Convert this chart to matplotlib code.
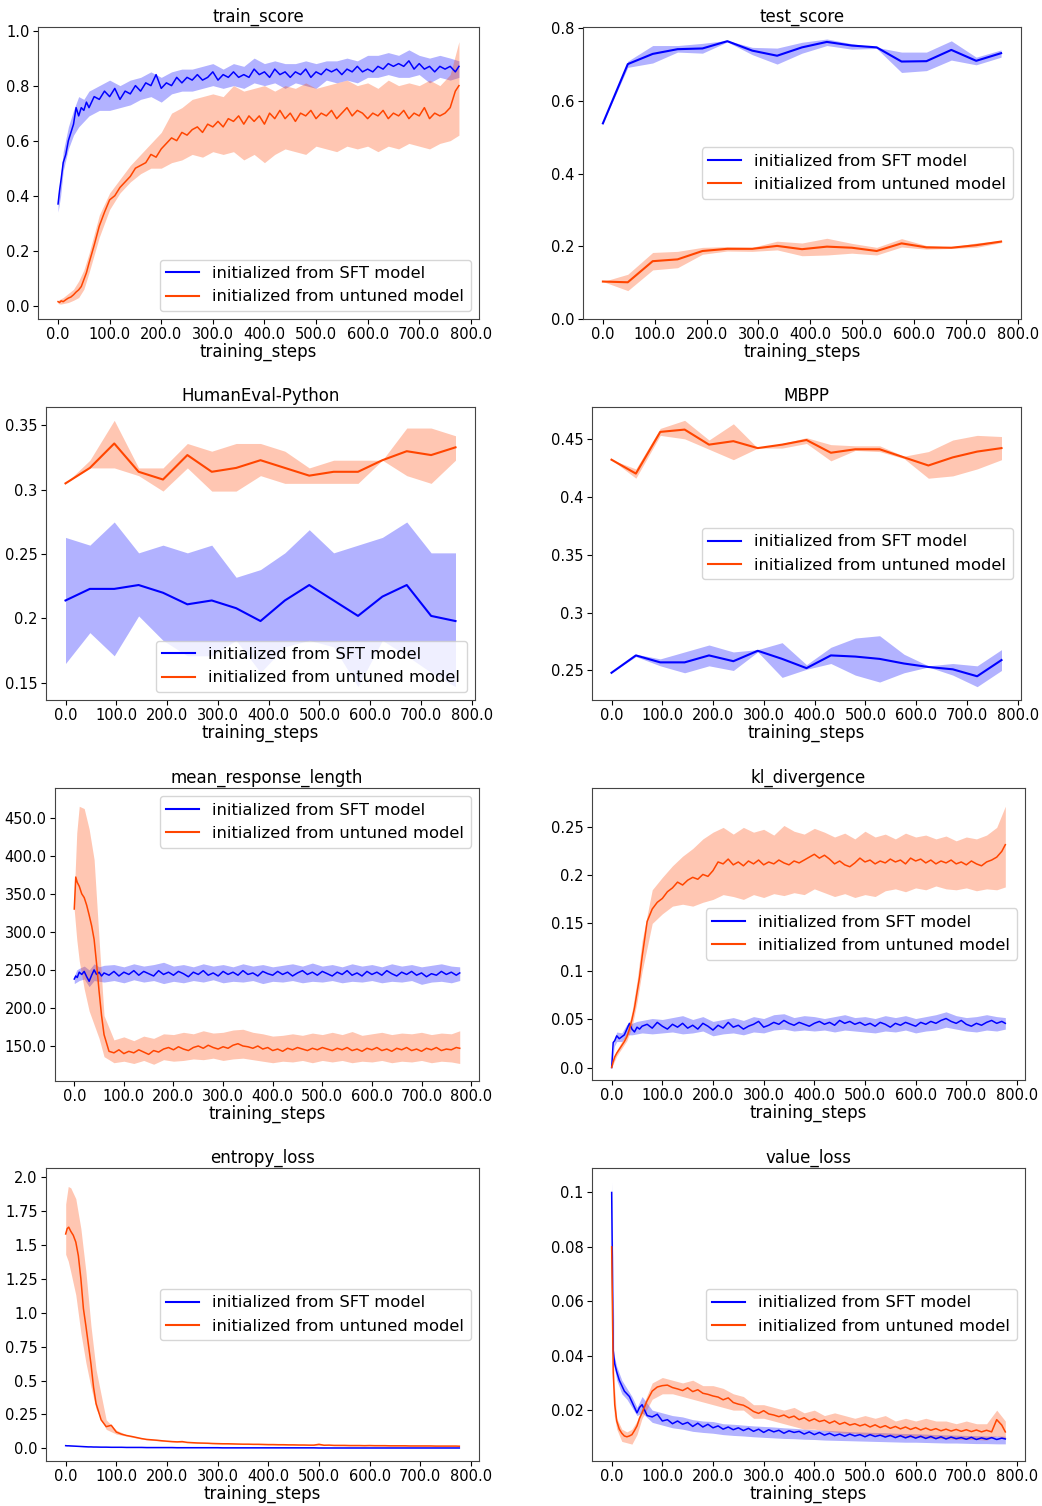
import matplotlib
matplotlib.use("Agg")
import matplotlib.pyplot as plt
from matplotlib.ticker import MultipleLocator, FuncFormatter

W, H = 1042, 1506

SFT_COLOR = "#0000ff"
UNT_COLOR = "#ff4500"
LABELS = ["initialized from SFT model", "initialized from untuned model"]

# ── x grids ───────────────────────────────────────────────────────
EVAL_STEPS = list(range(0, 769, 48))
STEPS_M = [0, 3, 6, 10, 15, 20, 25, 30, 35, 40, 45, 50, 55, 60] + list(range(70, 771, 10)) + [777]
STEPS_B = [0, 5, 10, 20, 30, 40, 50, 60] + list(range(80, 761, 20)) + [777]

# ── train_score ───────────────────────────────────────────────────
train_sft = [0.37, 0.42, 0.46, 0.52, 0.55, 0.60, 0.63, 0.66, 0.72, 0.69, 0.72, 0.71, 0.74, 0.72,
             0.76, 0.75, 0.78, 0.76, 0.79, 0.75, 0.78, 0.77, 0.80, 0.78,
             0.81, 0.80, 0.84, 0.79, 0.81, 0.80, 0.83, 0.81, 0.83, 0.82,
             0.84, 0.82, 0.83, 0.85, 0.82, 0.84, 0.83, 0.85, 0.83, 0.84,
             0.83, 0.86, 0.84, 0.85, 0.83, 0.86, 0.84, 0.85, 0.83, 0.85,
             0.84, 0.86, 0.83, 0.85, 0.84, 0.86, 0.85, 0.86, 0.84, 0.86,
             0.85, 0.87, 0.85, 0.86, 0.85, 0.87, 0.86, 0.88, 0.87, 0.88,
             0.87, 0.89, 0.86, 0.88, 0.86, 0.87, 0.85, 0.87, 0.86, 0.87,
             0.85, 0.87]
train_unt = [0.015, 0.012, 0.018, 0.015, 0.022, 0.028, 0.032, 0.04, 0.05, 0.058, 0.07, 0.095, 0.12, 0.155,
             0.22, 0.29, 0.34, 0.385, 0.40, 0.43, 0.45, 0.47, 0.50, 0.51,
             0.52, 0.55, 0.54, 0.57, 0.59, 0.61, 0.60, 0.63, 0.62, 0.64,
             0.65, 0.63, 0.66, 0.65, 0.67, 0.65, 0.68, 0.67, 0.69, 0.66,
             0.69, 0.67, 0.69, 0.66, 0.70, 0.68, 0.71, 0.68, 0.70, 0.67,
             0.70, 0.69, 0.71, 0.68, 0.70, 0.69, 0.71, 0.68, 0.70, 0.72,
             0.69, 0.71, 0.70, 0.68, 0.70, 0.69, 0.71, 0.68, 0.70, 0.69,
             0.71, 0.68, 0.70, 0.69, 0.72, 0.68, 0.70, 0.69, 0.70, 0.72,
             0.78, 0.80]
train_sft_hi = [0.40, 0.47, 0.56, 0.65, 0.71, 0.76, 0.75, 0.78,
                0.80, 0.82, 0.80, 0.82, 0.83, 0.85, 0.83, 0.85, 0.86, 0.86,
                0.87, 0.88, 0.86, 0.88, 0.87, 0.90, 0.88, 0.89, 0.88, 0.88,
                0.89, 0.88, 0.89, 0.89, 0.90, 0.89, 0.91, 0.91, 0.92, 0.91,
                0.93, 0.91, 0.90, 0.91, 0.90, 0.89]
train_sft_lo = [0.34, 0.40, 0.49, 0.57, 0.62, 0.65, 0.67, 0.69,
                0.71, 0.71, 0.72, 0.73, 0.75, 0.76, 0.74, 0.77, 0.78, 0.78,
                0.79, 0.80, 0.79, 0.80, 0.79, 0.81, 0.80, 0.81, 0.79, 0.81,
                0.80, 0.79, 0.82, 0.81, 0.82, 0.81, 0.83, 0.83, 0.84, 0.83,
                0.83, 0.84, 0.81, 0.83, 0.82, 0.83]
train_unt_hi = [0.02, 0.025, 0.03, 0.045, 0.06, 0.09, 0.13, 0.19,
                0.33, 0.41, 0.46, 0.51, 0.55, 0.59, 0.63, 0.70, 0.72, 0.75,
                0.76, 0.77, 0.76, 0.80, 0.78, 0.79, 0.80, 0.78, 0.80, 0.79,
                0.81, 0.79, 0.80, 0.81, 0.82, 0.80, 0.81, 0.79, 0.82, 0.80,
                0.81, 0.80, 0.82, 0.80, 0.84, 0.96]
train_unt_lo = [0.008, 0.006, 0.008, 0.012, 0.02, 0.03, 0.06, 0.12,
                0.25, 0.35, 0.41, 0.45, 0.48, 0.50, 0.50, 0.52, 0.53, 0.55,
                0.54, 0.56, 0.55, 0.56, 0.53, 0.55, 0.52, 0.55, 0.57, 0.56,
                0.55, 0.58, 0.57, 0.56, 0.58, 0.57, 0.58, 0.56, 0.58, 0.57,
                0.59, 0.58, 0.57, 0.59, 0.60, 0.62]

# ── test_score ────────────────────────────────────────────────────
test_sft = [0.538, 0.701, 0.729, 0.742, 0.744, 0.764, 0.738, 0.724, 0.747, 0.762, 0.752, 0.747, 0.708, 0.709, 0.740, 0.710, 0.731]
test_sft_hi = [0.538, 0.709, 0.752, 0.752, 0.758, 0.766, 0.747, 0.745, 0.761, 0.770, 0.757, 0.747, 0.734, 0.734, 0.765, 0.720, 0.740]
test_sft_lo = [0.538, 0.692, 0.704, 0.734, 0.731, 0.762, 0.727, 0.701, 0.731, 0.752, 0.742, 0.744, 0.678, 0.683, 0.712, 0.699, 0.720]
test_unt = [0.103, 0.101, 0.159, 0.164, 0.187, 0.193, 0.193, 0.201, 0.192, 0.199, 0.196, 0.187, 0.208, 0.197, 0.196, 0.203, 0.213]
test_unt_hi = [0.103, 0.123, 0.183, 0.186, 0.197, 0.199, 0.197, 0.214, 0.209, 0.222, 0.208, 0.197, 0.221, 0.202, 0.198, 0.209, 0.216]
test_unt_lo = [0.103, 0.078, 0.135, 0.141, 0.178, 0.187, 0.186, 0.190, 0.174, 0.176, 0.181, 0.176, 0.198, 0.192, 0.194, 0.197, 0.210]

# ── HumanEval-Python ──────────────────────────────────────────────
he_sft = [0.214, 0.223, 0.223, 0.226, 0.220, 0.211, 0.214, 0.208, 0.198, 0.214, 0.226, 0.214, 0.202, 0.217, 0.226, 0.202, 0.198]
he_sft_hi = [0.263, 0.257, 0.275, 0.251, 0.257, 0.251, 0.257, 0.232, 0.238, 0.251, 0.269, 0.251, 0.257, 0.263, 0.275, 0.251, 0.251]
he_sft_lo = [0.165, 0.189, 0.171, 0.202, 0.183, 0.171, 0.171, 0.183, 0.158, 0.178, 0.183, 0.178, 0.147, 0.183, 0.171, 0.158, 0.147]
he_unt = [0.305, 0.317, 0.336, 0.314, 0.308, 0.327, 0.314, 0.317, 0.323, 0.317, 0.311, 0.314, 0.314, 0.323, 0.330, 0.327, 0.333]
he_unt_hi = [0.305, 0.323, 0.354, 0.317, 0.317, 0.336, 0.330, 0.336, 0.336, 0.330, 0.317, 0.323, 0.323, 0.323, 0.348, 0.348, 0.342]
he_unt_lo = [0.305, 0.317, 0.317, 0.311, 0.299, 0.317, 0.299, 0.299, 0.311, 0.305, 0.305, 0.305, 0.305, 0.323, 0.311, 0.305, 0.323]

# ── MBPP ──────────────────────────────────────────────────────────
mbpp_sft = [0.248, 0.263, 0.257, 0.257, 0.263, 0.258, 0.267, 0.260, 0.252, 0.263, 0.262, 0.260, 0.256, 0.253, 0.251, 0.245, 0.259]
mbpp_sft_hi = [0.248, 0.264, 0.260, 0.266, 0.272, 0.266, 0.268, 0.274, 0.255, 0.270, 0.278, 0.280, 0.264, 0.254, 0.256, 0.254, 0.268]
mbpp_sft_lo = [0.248, 0.262, 0.254, 0.248, 0.254, 0.250, 0.266, 0.244, 0.251, 0.256, 0.246, 0.240, 0.248, 0.253, 0.246, 0.236, 0.250]
mbpp_unt = [0.432, 0.420, 0.456, 0.458, 0.445, 0.448, 0.442, 0.445, 0.449, 0.438, 0.441, 0.441, 0.434, 0.427, 0.434, 0.439, 0.442]
mbpp_unt_hi = [0.432, 0.424, 0.459, 0.466, 0.449, 0.463, 0.442, 0.446, 0.451, 0.445, 0.444, 0.444, 0.435, 0.439, 0.449, 0.453, 0.452]
mbpp_unt_lo = [0.432, 0.416, 0.453, 0.450, 0.441, 0.432, 0.442, 0.442, 0.446, 0.431, 0.440, 0.439, 0.433, 0.416, 0.418, 0.424, 0.432]

# ── mean_response_length ──────────────────────────────────────────
resp_sft = [238, 242, 240, 247, 244, 248, 241, 235, 243, 250, 244, 247, 242, 246,
            243, 248, 242, 247, 244, 249, 243, 248, 245, 242,
            249, 244, 247, 243, 248, 245, 241, 247, 244, 249,
            243, 246, 242, 248, 244, 247, 243, 249, 244, 246,
            242, 248, 245, 243, 248, 244, 247, 242, 246, 249,
            244, 247, 243, 248, 245, 242, 247, 244, 249, 243,
            246, 242, 248, 244, 247, 243, 249, 245, 242, 247,
            244, 248, 243, 246, 241, 245, 243, 248, 244, 247,
            243, 246]
resp_unt = [330, 372, 365, 360, 350, 345, 335, 322, 308, 290, 258, 222, 190, 165,
            143, 141, 145, 140, 143, 141, 145, 142, 139, 144,
            142, 146, 148, 145, 149, 146, 144, 148, 150, 147,
            151, 148, 146, 149, 147, 151, 153, 150, 149, 147,
            150, 146, 148, 144, 146, 143, 147, 145, 148, 146,
            144, 147, 145, 148, 146, 144, 147, 145, 148, 144,
            146, 143, 147, 145, 148, 144, 146, 143, 147, 145,
            148, 144, 146, 143, 147, 145, 148, 144, 146, 145,
            148, 147]
resp_sft_hi = [242, 250, 252, 255, 250, 258, 254, 256,
               257, 254, 258, 255, 257, 260, 255, 257, 254, 258,
               255, 257, 254, 258, 255, 257, 254, 256, 258, 255,
               259, 255, 257, 254, 258, 255, 257, 254, 258, 255,
               257, 254, 256, 258, 255, 254]
resp_sft_lo = [232, 234, 236, 238, 228, 236, 235, 234,
               236, 233, 237, 234, 236, 232, 235, 233, 236, 234,
               237, 233, 235, 234, 236, 232, 235, 234, 236, 233,
               235, 234, 236, 233, 235, 234, 236, 233, 235, 234,
               236, 231, 234, 235, 233, 236]
resp_unt_hi = [350, 430, 465, 462, 435, 395, 290, 190,
               158, 162, 157, 163, 160, 166, 165, 168, 166, 170,
               167, 168, 171, 172, 168, 166, 163, 164, 166, 164,
               167, 165, 168, 165, 169, 164, 166, 168, 165, 167,
               166, 168, 165, 167, 166, 170]
resp_unt_lo = [328, 290, 262, 225, 196, 178, 160, 136,
               128, 130, 127, 131, 126, 132, 130, 131, 133, 132,
               134, 131, 133, 134, 132, 130, 128, 130, 129, 131,
               128, 131, 129, 131, 128, 130, 129, 131, 128, 130,
               129, 131, 128, 130, 129, 127]

# ── kl_divergence ─────────────────────────────────────────────────
kl_sft = [0.0, 0.026, 0.028, 0.033, 0.030, 0.032, 0.034, 0.040, 0.046, 0.040, 0.037, 0.042, 0.040, 0.043,
          0.045, 0.041, 0.047, 0.043, 0.040, 0.045, 0.042, 0.046, 0.041, 0.044,
          0.040, 0.046, 0.043, 0.039, 0.044, 0.041, 0.047, 0.042, 0.044, 0.040,
          0.043, 0.045, 0.048, 0.042, 0.044, 0.047, 0.045, 0.049, 0.046, 0.044,
          0.047, 0.045, 0.043, 0.046, 0.048, 0.045, 0.047, 0.044, 0.049, 0.046,
          0.048, 0.045, 0.047, 0.044, 0.046, 0.043, 0.047, 0.045, 0.042, 0.046,
          0.044, 0.047, 0.045, 0.043, 0.047, 0.045, 0.048, 0.046, 0.049, 0.051,
          0.048, 0.046, 0.049, 0.045, 0.043, 0.046, 0.044, 0.047, 0.049, 0.046,
          0.048, 0.046]
kl_unt = [0.0, 0.006, 0.011, 0.015, 0.019, 0.023, 0.027, 0.032, 0.040, 0.050, 0.062, 0.078, 0.094, 0.115,
          0.152, 0.165, 0.172, 0.176, 0.183, 0.187, 0.193, 0.190, 0.195, 0.198,
          0.196, 0.201, 0.199, 0.205, 0.214, 0.212, 0.217, 0.211, 0.214, 0.210,
          0.215, 0.212, 0.216, 0.211, 0.214, 0.212, 0.216, 0.213, 0.211, 0.215,
          0.213, 0.216, 0.219, 0.222, 0.218, 0.221, 0.217, 0.212, 0.215, 0.211,
          0.209, 0.213, 0.218, 0.214, 0.216, 0.212, 0.215, 0.213, 0.217, 0.214,
          0.216, 0.212, 0.218, 0.215, 0.217, 0.213, 0.216, 0.212, 0.215, 0.213,
          0.216, 0.212, 0.214, 0.211, 0.215, 0.212, 0.210, 0.214, 0.216, 0.219,
          0.225, 0.232]
kl_sft_hi = [0.0, 0.030, 0.037, 0.036, 0.045, 0.046, 0.048, 0.049,
             0.051, 0.050, 0.052, 0.054, 0.050, 0.053, 0.048, 0.050, 0.052, 0.049,
             0.053, 0.051, 0.055, 0.056, 0.052, 0.054, 0.053, 0.051, 0.053, 0.055,
             0.052, 0.053, 0.051, 0.054, 0.052, 0.054, 0.051, 0.053, 0.055, 0.058,
             0.054, 0.052, 0.053, 0.055, 0.053, 0.052]
kl_sft_lo = [0.0, 0.022, 0.027, 0.027, 0.034, 0.034, 0.035, 0.036,
             0.035, 0.036, 0.037, 0.035, 0.036, 0.038, 0.033, 0.035, 0.036, 0.034,
             0.037, 0.036, 0.039, 0.040, 0.038, 0.039, 0.038, 0.039, 0.037, 0.039,
             0.038, 0.037, 0.036, 0.038, 0.037, 0.039, 0.036, 0.038, 0.039, 0.042,
             0.040, 0.038, 0.037, 0.039, 0.038, 0.040]
kl_unt_hi = [0.0, 0.012, 0.018, 0.027, 0.037, 0.058, 0.090, 0.132,
             0.185, 0.198, 0.210, 0.220, 0.228, 0.238, 0.245, 0.250, 0.243, 0.250,
             0.245, 0.248, 0.242, 0.252, 0.246, 0.243, 0.249, 0.245, 0.240, 0.244,
             0.238, 0.246, 0.240, 0.243, 0.238, 0.244, 0.240, 0.242, 0.238, 0.241,
             0.236, 0.240, 0.238, 0.242, 0.250, 0.272]
kl_unt_lo = [0.0, 0.006, 0.012, 0.020, 0.028, 0.042, 0.068, 0.100,
             0.150, 0.160, 0.168, 0.170, 0.168, 0.172, 0.175, 0.180, 0.178, 0.175,
             0.180, 0.177, 0.181, 0.179, 0.182, 0.180, 0.186, 0.182, 0.178, 0.181,
             0.177, 0.180, 0.178, 0.184, 0.186, 0.183, 0.187, 0.185, 0.189, 0.186,
             0.185, 0.187, 0.184, 0.186, 0.185, 0.188]

# ── entropy_loss ──────────────────────────────────────────────────
ent_sft = [0.020, 0.019, 0.019, 0.018, 0.017, 0.016, 0.015, 0.014, 0.013, 0.012, 0.011, 0.011, 0.010, 0.010,
           0.009, 0.009, 0.008, 0.008, 0.008, 0.007, 0.007, 0.007, 0.007, 0.006,
           0.006, 0.006, 0.006, 0.006, 0.006, 0.005, 0.005, 0.005, 0.005, 0.005,
           0.005, 0.005, 0.005, 0.005, 0.004, 0.004, 0.004, 0.004, 0.004, 0.004,
           0.004, 0.004, 0.004, 0.004, 0.004, 0.004, 0.004, 0.004, 0.004, 0.004,
           0.004, 0.004, 0.004, 0.003, 0.003, 0.003, 0.003, 0.003, 0.003, 0.003,
           0.003, 0.003, 0.003, 0.003, 0.003, 0.003, 0.003, 0.003, 0.003, 0.003,
           0.003, 0.003, 0.003, 0.003, 0.003, 0.003, 0.003, 0.003, 0.003, 0.003,
           0.003, 0.003]
ent_unt = [1.58, 1.62, 1.63, 1.60, 1.57, 1.52, 1.42, 1.25, 1.03, 0.90, 0.76, 0.62, 0.45, 0.33,
           0.21, 0.16, 0.17, 0.12, 0.105, 0.095, 0.088, 0.080, 0.072, 0.066,
           0.063, 0.060, 0.056, 0.053, 0.050, 0.048, 0.050, 0.044, 0.042, 0.040,
           0.039, 0.038, 0.036, 0.035, 0.034, 0.034, 0.033, 0.032, 0.031, 0.031,
           0.030, 0.030, 0.029, 0.028, 0.028, 0.027, 0.027, 0.026, 0.026, 0.025,
           0.025, 0.024, 0.024, 0.030, 0.023, 0.024, 0.022, 0.022, 0.022, 0.021,
           0.021, 0.021, 0.020, 0.021, 0.020, 0.020, 0.020, 0.019, 0.019, 0.019,
           0.019, 0.018, 0.018, 0.018, 0.018, 0.018, 0.017, 0.017, 0.017, 0.017,
           0.017, 0.016]
ent_sft_hi = [0.021, 0.019, 0.019, 0.017, 0.015, 0.013, 0.012, 0.011,
              0.010, 0.009, 0.008, 0.008, 0.007, 0.007, 0.007, 0.006, 0.006, 0.006,
              0.006, 0.006, 0.006, 0.005, 0.005, 0.005, 0.005, 0.005, 0.005, 0.005,
              0.005, 0.005, 0.005, 0.004, 0.004, 0.004, 0.004, 0.004, 0.004, 0.004,
              0.004, 0.004, 0.004, 0.004, 0.004, 0.004]
ent_sft_lo = [0.019, 0.017, 0.016, 0.015, 0.013, 0.011, 0.010, 0.009,
              0.008, 0.007, 0.006, 0.006, 0.005, 0.005, 0.005, 0.004, 0.004, 0.004,
              0.004, 0.004, 0.004, 0.003, 0.003, 0.003, 0.003, 0.003, 0.003, 0.003,
              0.003, 0.003, 0.003, 0.002, 0.002, 0.002, 0.002, 0.002, 0.002, 0.002,
              0.002, 0.002, 0.002, 0.002, 0.002, 0.002]
ent_unt_hi = [1.80, 1.93, 1.92, 1.84, 1.62, 1.30, 0.90, 0.58,
              0.21, 0.135, 0.10, 0.085, 0.07, 0.064, 0.057, 0.052, 0.048, 0.044,
              0.041, 0.038, 0.037, 0.035, 0.034, 0.033, 0.031, 0.030, 0.029, 0.028,
              0.027, 0.033, 0.027, 0.025, 0.024, 0.024, 0.024, 0.023, 0.022, 0.022,
              0.021, 0.021, 0.021, 0.020, 0.020, 0.019]
ent_unt_lo = [1.43, 1.38, 1.30, 1.13, 0.85, 0.63, 0.45, 0.29,
              0.14, 0.105, 0.09, 0.075, 0.062, 0.056, 0.049, 0.045, 0.041, 0.037,
              0.035, 0.032, 0.031, 0.029, 0.028, 0.027, 0.025, 0.024, 0.023, 0.022,
              0.021, 0.022, 0.021, 0.019, 0.018, 0.018, 0.018, 0.017, 0.016, 0.016,
              0.015, 0.015, 0.015, 0.014, 0.014, 0.013]

# ── value_loss ────────────────────────────────────────────────────
val_sft = [0.100, 0.042, 0.037, 0.034, 0.031, 0.029, 0.027, 0.026, 0.025, 0.023, 0.021, 0.019, 0.021, 0.022,
           0.018, 0.0175, 0.0185, 0.016, 0.0165, 0.015, 0.016, 0.0148, 0.0155, 0.014,
           0.0152, 0.0138, 0.0148, 0.0135, 0.0142, 0.013, 0.0138, 0.0128, 0.0135, 0.0125,
           0.0133, 0.0122, 0.013, 0.0118, 0.0128, 0.012, 0.0126, 0.0115, 0.0124, 0.0118,
           0.0122, 0.0112, 0.012, 0.011, 0.0118, 0.0108, 0.0115, 0.0106, 0.0112, 0.0104,
           0.0112, 0.0105, 0.011, 0.0102, 0.011, 0.0103, 0.0108, 0.0101, 0.0107, 0.0099,
           0.0106, 0.0098, 0.0105, 0.0097, 0.0104, 0.0096, 0.0103, 0.0095, 0.0102, 0.0094,
           0.0101, 0.0095, 0.0099, 0.0093, 0.01, 0.0092, 0.0098, 0.0093, 0.0099, 0.0092,
           0.0097, 0.0094]
val_unt = [0.080, 0.034, 0.022, 0.016, 0.013, 0.0115, 0.0105, 0.0102, 0.0105, 0.011, 0.0125, 0.0142, 0.017, 0.019,
           0.0235, 0.027, 0.0285, 0.029, 0.0292, 0.0283, 0.0278, 0.0272, 0.0282, 0.0268,
           0.0275, 0.0262, 0.0258, 0.0252, 0.0248, 0.0238, 0.0245, 0.0228, 0.0222, 0.0218,
           0.0208, 0.0195, 0.0188, 0.0198, 0.0186, 0.0182, 0.0176, 0.0182, 0.0172, 0.0178,
           0.0165, 0.0172, 0.016, 0.0168, 0.0158, 0.0163, 0.0152, 0.016, 0.0148, 0.0155,
           0.0145, 0.015, 0.0142, 0.0148, 0.0138, 0.0146, 0.0136, 0.0143, 0.0133, 0.014,
           0.0131, 0.0138, 0.0129, 0.0136, 0.0127, 0.0134, 0.0126, 0.0132, 0.0124, 0.013,
           0.0123, 0.0129, 0.0122, 0.0128, 0.0121, 0.0127, 0.012, 0.0126, 0.012, 0.0165,
           0.0145, 0.012]
val_sft_hi = [0.104, 0.040, 0.036, 0.031, 0.028, 0.025, 0.021, 0.025,
              0.020, 0.019, 0.018, 0.0175, 0.0165, 0.016, 0.0158, 0.015, 0.0148, 0.0145,
              0.0142, 0.014, 0.0138, 0.0135, 0.0133, 0.013, 0.0128, 0.0126, 0.0124, 0.0122,
              0.012, 0.0119, 0.0118, 0.0117, 0.0115, 0.0114, 0.0113, 0.0112, 0.011, 0.0109,
              0.0108, 0.0107, 0.0106, 0.0105, 0.0105, 0.0104]
val_sft_lo = [0.096, 0.036, 0.031, 0.026, 0.024, 0.021, 0.018, 0.019,
              0.0155, 0.0145, 0.0135, 0.013, 0.0122, 0.0118, 0.0115, 0.011, 0.0107, 0.0105,
              0.0102, 0.01, 0.0098, 0.0096, 0.0095, 0.0093, 0.0092, 0.009, 0.0089, 0.0088,
              0.0087, 0.0086, 0.0085, 0.0084, 0.0083, 0.0082, 0.0082, 0.0081, 0.008, 0.0079,
              0.0079, 0.0078, 0.0077, 0.0077, 0.0076, 0.0076]
val_unt_hi = [0.080, 0.030, 0.017, 0.013, 0.012, 0.013, 0.016, 0.021,
              0.030, 0.032, 0.031, 0.030, 0.031, 0.029, 0.029, 0.028, 0.026, 0.025,
              0.022, 0.022, 0.021, 0.020, 0.021, 0.019, 0.020, 0.018, 0.019, 0.018,
              0.017, 0.018, 0.017, 0.018, 0.016, 0.017, 0.016, 0.017, 0.016, 0.016,
              0.015, 0.016, 0.015, 0.015, 0.020, 0.016]
val_unt_lo = [0.080, 0.018, 0.013, 0.0085, 0.008, 0.0075, 0.011, 0.017,
              0.024, 0.026, 0.026, 0.025, 0.024, 0.023, 0.022, 0.021, 0.020, 0.020,
              0.017, 0.017, 0.016, 0.015, 0.014, 0.013, 0.013, 0.0125, 0.012, 0.0115,
              0.0115, 0.011, 0.011, 0.0105, 0.0105, 0.010, 0.010, 0.0098, 0.0096, 0.0095,
              0.0093, 0.0092, 0.0092, 0.009, 0.0105, 0.0095]

# ── panels: (title, x_line, sft, unt, x_band, sft_lo, sft_hi, unt_lo, unt_hi, legend loc, ytick step, ylim, rect px)
panels = [
    ("train_score", STEPS_M, train_sft, train_unt, STEPS_B, train_sft_lo, train_sft_hi, train_unt_lo, train_unt_hi,
     "lower right", 0.2, (-0.048, 1.013), (38, 27, 479, 319)),
    ("test_score", EVAL_STEPS, test_sft, test_unt, EVAL_STEPS, test_sft_lo, test_sft_hi, test_unt_lo, test_unt_hi,
     "center right", 0.2, (0.0, 0.803), (583, 27, 1021, 319)),
    ("HumanEval-Python", EVAL_STEPS, he_sft, he_unt, EVAL_STEPS, he_sft_lo, he_sft_hi, he_unt_lo, he_unt_hi,
     "lower right", 0.05, None, (46, 407, 475, 700)),
    ("MBPP", EVAL_STEPS, mbpp_sft, mbpp_unt, EVAL_STEPS, mbpp_sft_lo, mbpp_sft_hi, mbpp_unt_lo, mbpp_unt_hi,
     "center right", 0.05, None, (592, 407, 1021, 700)),
    ("mean_response_length", STEPS_M, resp_sft, resp_unt, STEPS_B, resp_sft_lo, resp_sft_hi, resp_unt_lo, resp_unt_hi,
     "upper right", 50, (104, 489), (55, 788, 479, 1081)),
    ("kl_divergence", STEPS_M, kl_sft, kl_unt, STEPS_B, kl_sft_lo, kl_sft_hi, kl_unt_lo, kl_unt_hi,
     "center right", 0.05, (-0.013, 0.291), (592, 788, 1025, 1080)),
    ("entropy_loss", STEPS_M, ent_sft, ent_unt, STEPS_B, ent_sft_lo, ent_sft_hi, ent_unt_lo, ent_unt_hi,
     "center right", 0.25, (-0.093, 2.066), (46, 1168, 479, 1461)),
    ("value_loss", STEPS_M, val_sft, val_unt, STEPS_B, val_sft_lo, val_sft_hi, val_unt_lo, val_unt_hi,
     "center right", 0.02, (0.0013, 0.109), (592, 1168, 1025, 1461)),
]

fmt = FuncFormatter(lambda v, p: str(round(v, 6)))

fig = plt.figure(figsize=(W / 100, H / 100), dpi=100)

for (title, xl, sft, unt, xb, s_lo, s_hi, u_lo, u_hi, loc, ystep, ylim, rect) in panels:
    l, t, r, b = rect
    ax = fig.add_axes([l / W, 1 - b / H, (r - l) / W, (b - t) / H])
    lw = 1.5 if xl is EVAL_STEPS else 1.1

    ax.fill_between(xb, s_lo, s_hi, color=SFT_COLOR, alpha=0.3, linewidth=0)
    ax.fill_between(xb, u_lo, u_hi, color=UNT_COLOR, alpha=0.3, linewidth=0)
    ax.plot(xl, sft, color=SFT_COLOR, linewidth=lw, label=LABELS[0])
    ax.plot(xl, unt, color=UNT_COLOR, linewidth=lw, label=LABELS[1])

    ax.set_title(title, fontsize=12, pad=4)
    ax.set_xlabel("training_steps", fontsize=12, labelpad=0)
    ax.xaxis.set_major_locator(MultipleLocator(100))
    ax.yaxis.set_major_locator(MultipleLocator(ystep))
    ax.xaxis.set_major_formatter(fmt)
    ax.yaxis.set_major_formatter(fmt)
    ax.tick_params(labelsize=10.5, pad=2.5)
    if ylim is not None:
        ax.set_ylim(*ylim)
    for sp in ax.spines.values():
        sp.set_color("#444444")

    leg = ax.legend(loc=loc, fontsize=11.8)
    for line in leg.get_lines():
        line.set_linewidth(1.5)

fig.savefig("out.png", dpi=100)
